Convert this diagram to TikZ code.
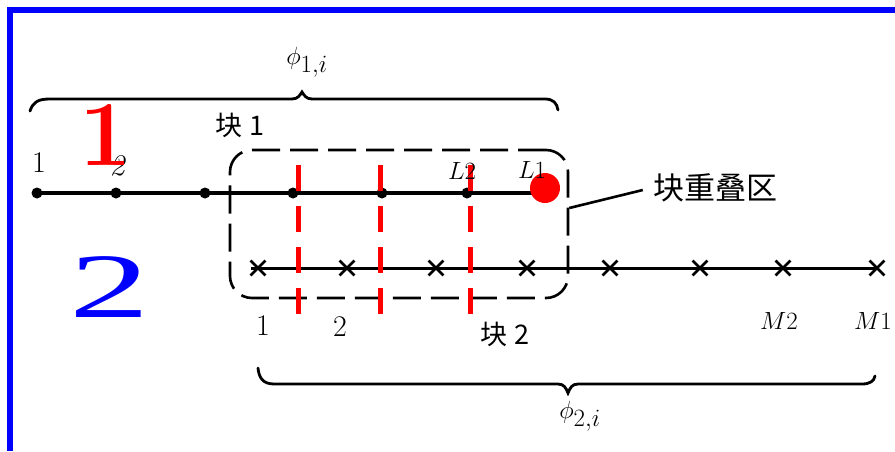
\documentclass[tikz,border=0pt]{standalone}
\usepackage{fontspec}
\usepackage{graphicx}
\newfontfamily\cjk{Noto Sans CJK SC}
\newfontfamily\timesf{Liberation Serif}
\usetikzlibrary{shapes.misc}
\begin{document}
\begin{tikzpicture}[x=1pt,y=-1pt,
  lbl/.style={inner sep=0pt, font=\fontsize{30}{30}\selectfont},
  cjklbl/.style={inner sep=0pt, font=\fontsize{27}{27}\selectfont\cjk},
  dotnode/.style={circle, fill=black, inner sep=0pt, minimum size=11pt},
  crossnode/.style={cross out, draw=black, line width=2.8pt, inner sep=0pt, minimum size=12pt},
  mainline/.style={line width=3.4pt, black},
  bracepath/.style={line width=2.8pt, black, line cap=round},
  overlapbox/.style={draw=black, line width=2.6pt, dash pattern=on 28pt off 10pt, rounded corners=22pt, inner sep=0pt},
  reddash/.style={draw=red, line width=5pt, dash pattern=on 26pt off 15pt},
  frameline/.style={draw={rgb,255:red,0;green,0;blue,255}, line width=6pt}]
\useasboundingbox (0,0) rectangle (895,451);
\fill[white] (0,0) rectangle (895,451);

% overlap box
\node[overlapbox, minimum width=338pt, minimum height=148pt] (ovl) at (399,224) {};

% braces
\draw[bracepath] (30,111) .. controls (33,102) and (38,99) .. (50,99) -- (292,99)
  .. controls (298,99) and (300,95) .. (302,92) .. controls (304,95) and (306,99) .. (312,99)
  -- (545,99) .. controls (553,99) and (557,103) .. (558,110);
\draw[bracepath] (258,368) .. controls (259,378) and (263,384) .. (274,384) -- (558,384)
  .. controls (564,384) and (566,388) .. (568,393) .. controls (570,388) and (572,384) .. (578,384)
  -- (862,384) .. controls (870,384) and (874,381) .. (875,376);

% top line nodes
\node[dotnode] (a1) at (37,193) {};
\node[dotnode] (a2) at (116,193) {};
\node[dotnode] (a3) at (205,193) {};
\node[dotnode] (a4) at (293,193) {};
\node[dotnode] (a5) at (382,193) {};
\node[dotnode] (a6) at (467,193) {};
\coordinate (rdc) at (545,193);
\draw[mainline] (a1.center) -- (rdc);
\node[circle, fill=red, inner sep=0pt, minimum size=30pt] (rd) at (545,188) {};

% bottom line nodes
\node[crossnode] (b1) at (258,268) {};
\node[crossnode] (b2) at (347,268) {};
\node[crossnode] (b3) at (436,268) {};
\node[crossnode] (b4) at (527,268) {};
\node[crossnode] (b5) at (610,268) {};
\node[crossnode] (b6) at (700,268) {};
\node[crossnode] (b7) at (783,268) {};
\node[crossnode] (b8) at (877,268) {};
\draw[line width=3pt] (b1.west) -- (b8.center);

% red dashed separators
\draw[reddash] (298,165) -- (298,314);
\draw[reddash] (380,165) -- (380,314);
\draw[reddash] (470,165) -- (470,314);

% labels
\node[lbl] (t1) at (39,163) {1};
\node[lbl] (t2) at (117,166) {\itshape 2};
\node[lbl] (tl2) at (462,171) {$L2$};
\node[lbl] (tl1) at (532,170) {$L1$};
\node[cjklbl] (k1) at (240,125) {块 1};
\node[lbl] (s1) at (263,326) {1};
\node[lbl] (s2) at (340,327) {2};
\node[cjklbl] (k2) at (505,334) {块 2};
\node[lbl] (m2) at (779,321) {$M2$};
\node[lbl] (m1) at (873,321) {$M1$};
\node[inner sep=0pt, font=\fontsize{34}{34}\selectfont] (phi1) at (307,62) {$\phi_{1,i}$};
\node[inner sep=0pt, font=\fontsize{34}{34}\selectfont] (phi2) at (580,416) {$\phi_{2,i}$};
\node[inner sep=0pt, font=\fontsize{31}{31}\selectfont\cjk] (ovlab) at (715,188) {块重叠区};
\draw[line width=2.6pt] ([yshift=16pt]ovl.east) -- ([xshift=-10pt,yshift=-2pt]ovlab.west);

% big coloured numerals
\node[inner sep=0pt, text=red, font=\fontsize{93}{93}\selectfont\bfseries] (big1) at (106,135) {1};
\node[inner sep=0pt, text={rgb,255:red,0;green,0;blue,255}, font=\fontsize{92}{92}\selectfont\timesf] (big2) at (110,287) {\scalebox{1.75}[1]{2}};

% frame
\draw[frameline] (10,451) -- (10,10) -- (895,10);
\end{tikzpicture}
\end{document}
